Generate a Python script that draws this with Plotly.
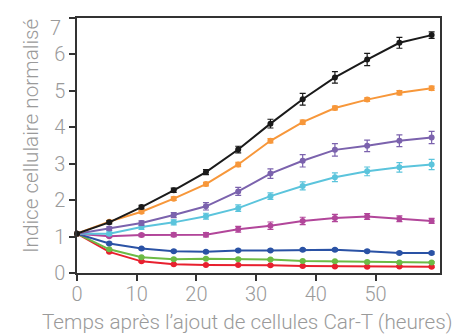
import plotly.graph_objects as go

hours = [0, 5.4, 10.8, 16.2, 21.6, 27, 32.4, 37.8, 43.2, 48.6, 54, 59.4]

black = [1.08, 1.39, 1.81, 2.27, 2.77, 3.39, 4.10, 4.77, 5.37, 5.86, 6.32, 6.53]
orange = [1.08, 1.41, 1.68, 2.04, 2.44, 2.98, 3.63, 4.14, 4.53, 4.76, 4.95, 5.07]
purple = [1.08, 1.22, 1.37, 1.59, 1.83, 2.24, 2.73, 3.08, 3.38, 3.49, 3.63, 3.72]
cyan = [1.08, 1.08, 1.26, 1.39, 1.56, 1.78, 2.11, 2.39, 2.63, 2.79, 2.90, 2.98]
magenta = [1.08, 1.01, 1.04, 1.05, 1.05, 1.20, 1.30, 1.43, 1.51, 1.55, 1.49, 1.43]
blue = [1.08, 0.81, 0.67, 0.60, 0.58, 0.62, 0.62, 0.64, 0.64, 0.60, 0.55, 0.55]
green = [1.08, 0.65, 0.43, 0.38, 0.39, 0.38, 0.37, 0.33, 0.32, 0.30, 0.29, 0.29]
red = [1.08, 0.58, 0.32, 0.24, 0.22, 0.22, 0.21, 0.19, 0.18, 0.17, 0.18, 0.17]

black_err = [0.03, 0.04, 0.05, 0.06, 0.07, 0.09, 0.12, 0.16, 0.16, 0.17, 0.15, 0.09]
orange_err = [0.03, 0.03, 0.04, 0.05, 0.05, 0.06, 0.06, 0.06, 0.05, 0.05, 0.06, 0.06]
purple_err = [0.03, 0.05, 0.06, 0.07, 0.10, 0.11, 0.13, 0.17, 0.17, 0.16, 0.16, 0.17]
cyan_err = [0.03, 0.05, 0.06, 0.07, 0.08, 0.09, 0.09, 0.11, 0.12, 0.12, 0.13, 0.14]
magenta_err = [0.03, 0.03, 0.04, 0.05, 0.06, 0.08, 0.10, 0.10, 0.10, 0.08, 0.08, 0.07]
blue_err = [0.03] * 12
green_err = [0.02] * 12
red_err = [0.02] * 12

series = [
    (red, red_err, "#e8202f"),
    (green, green_err, "#6cbb45"),
    (blue, blue_err, "#2a52a5"),
    (magenta, magenta_err, "#b2469a"),
    (cyan, cyan_err, "#5bc4dc"),
    (purple, purple_err, "#7b62ad"),
    (orange, orange_err, "#f7973a"),
    (black, black_err, "#1a1a1a"),
]

x_ticks = [0, 10, 20, 30, 40, 50]
y_ticks = [0, 1, 2, 3, 4, 5, 6, 7]
y_labels = ["0", "1", "2", "3", "4", "5", "6", ""]
top_label = "7"

fig = go.Figure()
for vals, errs, col in series:
    fig.add_trace(go.Scatter(
        x=hours, y=vals, mode="lines+markers",
        line=dict(color=col, width=2),
        marker=dict(color=col, size=6),
        error_y=dict(type="data", array=errs, color=col, thickness=1.2, width=3),
        showlegend=False, cliponaxis=False,
    ))

font_fam = "Roboto"
gray = "#9a9a9a"
tick_font = dict(size=20, color=gray, family=font_fam, weight=300)
title_font = dict(size=20.7, color=gray, family=font_fam, weight=300)
fig.update_layout(
    width=464, height=336,
    margin=dict(l=77, r=24, t=18, b=63),
    paper_bgcolor="white", plot_bgcolor="white",
    font=dict(family=font_fam, color=gray, size=20, weight=300),
)
fig.update_xaxes(
    range=[0, 60.8], tickvals=x_ticks, ticks="outside", ticklen=6, tickwidth=1.5,
    tickcolor="#333", showline=True, linecolor="#333", linewidth=1.5, mirror=True,
    showgrid=False, zeroline=False, tickfont=tick_font, ticklabelstandoff=-4,
)
fig.update_yaxes(
    range=[0, 7], tickvals=y_ticks, ticktext=y_labels, ticks="outside", ticklen=6,
    tickwidth=1.5, tickcolor="#333", showline=True, linecolor="#333", linewidth=1.5,
    mirror=True, showgrid=False, zeroline=False, tickfont=tick_font,
)
# top label sits just below its tick, as in the reference
fig.add_annotation(
    text=top_label, xref="paper", yref="paper", x=-14 / 363, y=1 + 4 / 255,
    xanchor="right", yanchor="top", showarrow=False, font=tick_font,
)
fig.add_annotation(
    text="Temps après l’ajout de cellules Car-T (heures)",
    xref="paper", yref="paper", x=(247.5 - 77) / 363, y=(336 - 322 - 63) / 255,
    xanchor="center", yanchor="middle", showarrow=False, font=title_font,
)
fig.add_annotation(
    text="Indice cellulaire normalisé",
    xref="paper", yref="paper", x=(31 - 77) / 363, y=(336 - 63 - 136) / 255,
    xanchor="center", yanchor="middle", showarrow=False, textangle=-90,
    font=title_font,
)
fig.write_html("out.html")
